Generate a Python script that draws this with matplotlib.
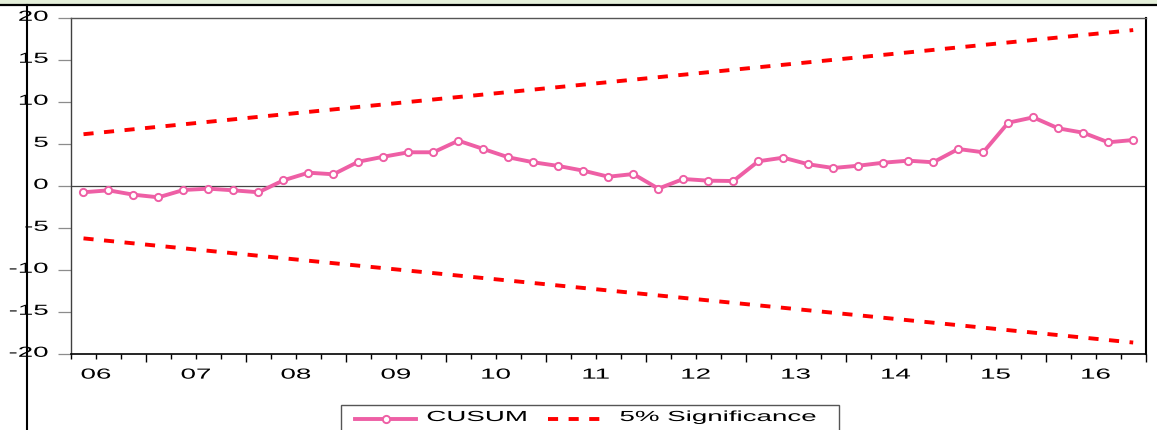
import numpy as np
import matplotlib.pyplot as plt
from matplotlib.lines import Line2D
from matplotlib.patches import Rectangle
from matplotlib.patheffects import AbstractPathEffect
from matplotlib.transforms import Affine2D, ScaledTranslation
from matplotlib.ticker import FixedLocator, FixedFormatter

plt.rcParams['font.family'] = 'Liberation Sans'

####################################################################################
# data (quarterly, 2006Q2 - 2016Q4)
cusum = [-0.71, -0.48, -1.00, -1.31, -0.44, -0.28, -0.48, -0.71, 0.71, 1.62,
         1.43, 2.93, 3.52, 4.05, 4.05, 5.43, 4.44, 3.45, 2.86, 2.42,
         1.86, 1.14, 1.46, -0.28, 0.87, 0.67, 0.63, 2.98, 3.41, 2.62,
         2.18, 2.45, 2.81, 3.05, 2.86, 4.44, 4.05, 7.57, 8.21, 6.90,
         6.38, 5.24, 5.51]
bound_upper = [6.2, 18.6]     # first / last quarter
bound_lower = [-6.2, -18.6]

year_labels = ['06', '07', '08', '09', '10', '11', '12', '13', '14', '15', '16']
year_label_pos = [1, 5, 9, 13, 17, 21, 25, 29, 33, 37, 41]   # in quarters from 2006Q2
year_starts = [3, 7, 11, 15, 19, 23, 27, 31, 35, 39, 43]
n_quarters = 43

y_ticks = [-20, -15, -10, -5, 0, 5, 10, 15, 20]
y_ticklabels = ['-20', '-15', '-10', '-5', '0', '5', '10', '15', '20']

####################################################################################
# style
cusum_color = '#EE5FA5'
bound_color = '#FF0000'
lw = 2.8
dash = (2.6, 2.7)
fs = 10.5
sx = 1.9     # the original text is stretched horizontally

W, H = 1157, 430


class Stretch(AbstractPathEffect):
    """stretch glyphs horizontally around an anchor"""
    def __init__(self, sx, anchor='center'):
        super().__init__()
        self.sx = sx
        self.anchor = anchor

    def draw_path(self, renderer, gc, tpath, affine, rgbFace=None):
        ext = tpath.get_extents(affine)
        if self.anchor == 'left':
            x0 = ext.x0
        elif self.anchor == 'right':
            x0 = ext.x1
        else:
            x0 = (ext.x0 + ext.x1) / 2
        affine = affine + Affine2D().translate(-x0, 0).scale(self.sx, 1).translate(x0, 0)
        renderer.draw_path(gc, tpath, affine, rgbFace)


def px(x, y):
    return x / W, 1 - y / H


fig = plt.figure(figsize=(W / 100, H / 100), dpi=100)
ax = fig.add_axes([71 / W, 1 - 354.3 / H, (1145.7 - 71) / W, 336 / H])

x = np.arange(len(cusum)) + 0.5
ax.axhline(0, color='#444444', linewidth=0.9, zorder=1)
ax.plot([x[0], x[-1]], bound_upper, color=bound_color, linewidth=lw, dashes=dash, zorder=2)
ax.plot([x[0], x[-1]], bound_lower, color=bound_color, linewidth=lw, dashes=dash, zorder=2)
ax.plot(x, cusum, color=cusum_color, linewidth=lw, marker='o', markersize=5.2,
        markerfacecolor='white', markeredgecolor=cusum_color, markeredgewidth=1.4, zorder=3)

ax.set_xlim(0, n_quarters)
ax.set_ylim(-20, 20)

# y axis
ax.yaxis.set_major_locator(FixedLocator(y_ticks))
ax.yaxis.set_major_formatter(FixedFormatter(y_ticklabels))
ax.tick_params(axis='y', direction='out', length=9.4, width=0.9, color='#8c8c8c',
               pad=7, labelsize=fs)

# x axis: long ticks at year starts, short ticks each quarter, labels at year centres
minor_pos = [q for q in range(n_quarters + 1) if q not in year_starts]
minor_lab = [year_labels[year_label_pos.index(q)] if q in year_label_pos else '' for q in minor_pos]
ax.xaxis.set_major_locator(FixedLocator(year_starts))
ax.xaxis.set_major_formatter(FixedFormatter([''] * len(year_starts)))
ax.xaxis.set_minor_locator(FixedLocator(minor_pos))
ax.xaxis.set_minor_formatter(FixedFormatter(minor_lab))
ax.tick_params(axis='x', which='major', direction='out', length=5.8, width=1, color='black')
ax.tick_params(axis='x', which='minor', direction='out', length=3.6, width=1, color='black',
               pad=6, labelsize=fs)

# y labels sit a few pixels above their ticks in the original
up = ScaledTranslation(0, 0.03, fig.dpi_scale_trans)
for tick in ax.yaxis.get_major_ticks():
    tick.label1.set_transform(tick.label1.get_transform() + up)
    tick.label1.set_path_effects([Stretch(sx, 'right')])
for t in ax.get_xticklabels(minor=True):
    t.set_path_effects([Stretch(sx, 'center')])

ax.spines['left'].set_color('#404040')
ax.spines['left'].set_linewidth(1.0)
ax.spines['top'].set_color('#555555')
ax.spines['top'].set_linewidth(1.0)
ax.spines['right'].set_color('black')
ax.spines['right'].set_linewidth(1.5)
ax.spines['bottom'].set_color('black')
ax.spines['bottom'].set_linewidth(1.2)

####################################################################################
# screenshot frame: green strip at the top, black rule and left border
fig.add_artist(Rectangle(px(0, 4.3), 1, 4.3 / H, transform=fig.transFigure,
                         facecolor='#E4EFD9', edgecolor='none'))
fig.add_artist(Line2D([0, 1], [1 - 5 / H] * 2, transform=fig.transFigure,
                      color='black', linewidth=1.6))
fig.add_artist(Line2D([26.7 / W] * 2, [1 - 5 / H, 0], transform=fig.transFigure,
                      color='black', linewidth=1.5))

####################################################################################
# legend (box runs off the bottom edge)
fig.add_artist(Rectangle(px(341, 445), (839 - 341) / W, 40 / H, transform=fig.transFigure,
                         facecolor='white', edgecolor='#555555', linewidth=1.0))
ly = 418.5
fig.add_artist(Line2D([355 / W, 385.5 / W, 416 / W], [1 - ly / H] * 3, transform=fig.transFigure,
                      color=cusum_color, linewidth=lw, marker='o', markersize=5.2, markevery=[1],
                      markerfacecolor='white', markeredgecolor=cusum_color, markeredgewidth=1.4))
fig.text(427 / W, 1 - 417 / H, 'CUSUM', fontsize=fs, ha='left', va='center',
         path_effects=[Stretch(sx, 'left')])
fig.add_artist(Line2D([548 / W, 606 / W], [1 - ly / H] * 2, transform=fig.transFigure,
                      color=bound_color, linewidth=lw, dashes=dash))
fig.text(620 / W, 1 - 417 / H, '5% Significance', fontsize=fs, ha='left', va='center',
         path_effects=[Stretch(sx, 'left')])

fig.savefig('out.png', dpi=100)
